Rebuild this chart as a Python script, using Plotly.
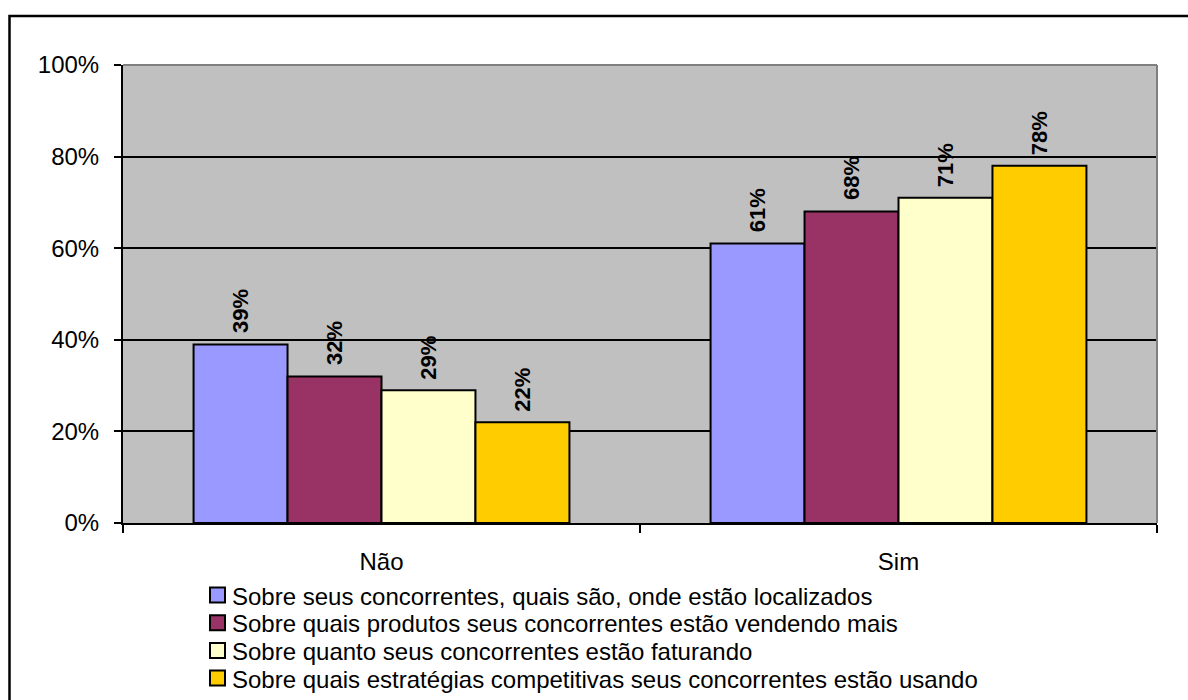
import plotly.graph_objects as go

# Survey answers and the share of respondents per answer
categories = ["Não", "Sim"]
series_names = [
    "Sobre seus concorrentes, quais são, onde estão localizados",
    "Sobre quais produtos seus concorrentes estão vendendo mais",
    "Sobre quanto seus concorrentes estão faturando",
    "Sobre quais estratégias competitivas seus concorrentes estão usando",
]
localizacao = [0.39, 0.61]
produtos = [0.32, 0.68]
faturamento = [0.29, 0.71]
estrategias = [0.22, 0.78]
series_values = [localizacao, produtos, faturamento, estrategias]
colors = ["#9999FF", "#993366", "#FFFFCC", "#FFCC00"]
y_ticks = [0, 0.2, 0.4, 0.6, 0.8, 1.0]
y_tick_labels = ["0%", "20%", "40%", "60%", "80%", "100%"]

FONT = "Liberation Sans, Arial, sans-serif"
W, H = 1188, 700
L, R, T, B = 123, 31, 65, 177
plot_w = W - L - R
plot_h = H - T - B
BARGAP = 0.273

fig = go.Figure()
for name, vals, col in zip(series_names, series_values, colors):
    fig.add_trace(go.Bar(
        x=categories, y=vals, name=name,
        marker=dict(color=col, line=dict(color="black", width=2)),
    ))

# Rotated value labels above each bar
n = len(series_values)
bar_w = (1 - BARGAP) / n
for i, vals in enumerate(series_values):
    offset = -(1 - BARGAP) / 2 + bar_w * (i + 0.5)
    for ci, v in enumerate(vals):
        fig.add_annotation(
            x=ci + offset, y=v, xref="x", yref="y",
            text=f"{round(v * 100)}%", textangle=-90,
            showarrow=False, yanchor="bottom", xanchor="center", yshift=9,
            font=dict(family=FONT, size=22, color="black", weight="bold"),
        )

def px_x(p):
    return (p - L) / plot_w

def px_y(p):
    return (H - B - p) / plot_h

shapes = [
    # gray frame on the top and right of the plotting area
    dict(type="line", xref="paper", yref="paper", x0=0, x1=1, y0=1, y1=1,
         line=dict(color="#808080", width=2)),
    dict(type="line", xref="paper", yref="paper", x0=1, x1=1, y0=0, y1=1,
         line=dict(color="#808080", width=2)),
    # outer chart border
    dict(type="rect", xref="paper", yref="paper",
         x0=px_x(9.5), x1=px_x(1200), y0=px_y(712), y1=px_y(16),
         line=dict(color="black", width=2.5), fillcolor="rgba(0,0,0,0)", layer="below"),
]

# Legend: colour swatches with the series names beside them
LEG_X, LEG_Y0, LEG_STEP, SW = 210, 595, 27.7, 15
for i, (name, col) in enumerate(zip(series_names, colors)):
    cy = LEG_Y0 + i * LEG_STEP
    shapes.append(dict(
        type="rect", xref="paper", yref="paper",
        x0=px_x(LEG_X), x1=px_x(LEG_X + SW),
        y0=px_y(cy + SW / 2), y1=px_y(cy - SW / 2),
        fillcolor=col, line=dict(color="black", width=2),
    ))
    fig.add_annotation(
        x=px_x(LEG_X + SW + 5), y=px_y(cy + 1), xref="paper", yref="paper",
        text=name, showarrow=False, xanchor="left", yanchor="middle",
        font=dict(family=FONT, size=24, color="black"),
    )

fig.update_layout(
    width=W, height=H,
    margin=dict(l=L, r=R, t=T, b=B, pad=0),
    paper_bgcolor="white",
    plot_bgcolor="#C0C0C0",
    barmode="group",
    bargap=BARGAP,
    bargroupgap=0,
    font=dict(family=FONT, color="black", size=24),
    showlegend=False,
    shapes=shapes,
)
fig.update_xaxes(
    type="category", showline=True, linecolor="black", linewidth=2,
    ticks="outside", tickson="boundaries", ticklen=8, tickwidth=2, tickcolor="black",
    tickfont=dict(size=24), showgrid=False, ticklabelstandoff=16,
)
fig.update_yaxes(
    range=[0, 1], tickvals=y_ticks, ticktext=y_tick_labels,
    showline=True, linecolor="black", linewidth=2,
    ticks="outside", ticklen=7, tickwidth=2, tickcolor="black",
    showgrid=True, gridcolor="black", gridwidth=2,
    tickfont=dict(size=24), zeroline=False, ticklabelstandoff=10,
)

fig.write_html("out.html")
